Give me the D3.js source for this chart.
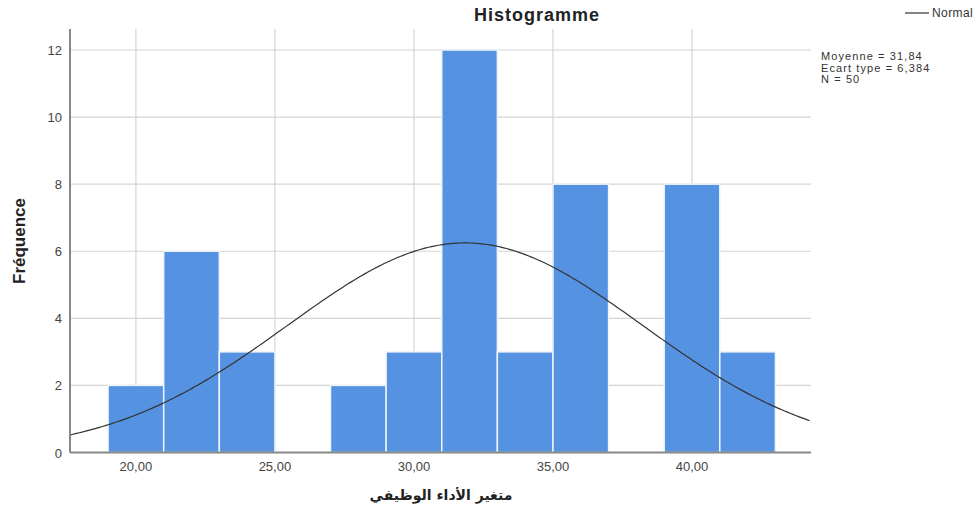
<!DOCTYPE html>
<html><head><meta charset="utf-8">
<script src="https://cdn.jsdelivr.net/npm/d3@7"></script>
<style>body{margin:0;background:#fff;} text{font-family:"Liberation Sans",Arial,sans-serif;}</style>
</head><body><svg id="c" width="975" height="511"></svg>
<script>
const binStarts = [19,21,23,25,27,29,31,33,35,37,39,41];
const binWidth = 2;
const counts = [2,6,3,0,2,3,12,3,8,0,8,3];
const xTicks = [20,25,30,35,40];
const yTicks = [0,2,4,6,8,10,12];
const stats = {mean:31.84, sd:6.384, n:50};
const statLabels = ["Moyenne = 31,84","Ecart type = 6,384","N = 50"];

const svg = d3.select("#c");
const x = d3.scaleLinear().domain([17.63,44.28]).range([70,811]);
const y = d3.scaleLinear().domain([0,12]).range([452.5,50]);
const yTop = 29;
const fmt = d => d.toFixed(2).replace(".", ",");

// grid
svg.append("g").selectAll("line").data(yTicks.filter(d=>d>0)).join("line")
  .attr("x1",70).attr("x2",811).attr("y1",d=>y(d)).attr("y2",d=>y(d))
  .attr("stroke","#d4d4d4").attr("stroke-width",1.2);
svg.append("g").selectAll("line").data(xTicks).join("line")
  .attr("x1",d=>x(d)).attr("x2",d=>x(d)).attr("y1",yTop).attr("y2",y(0))
  .attr("stroke","#d4d4d4").attr("stroke-width",1.2);

// bars
svg.append("g").selectAll("rect").data(binStarts.map((s,i)=>({s,c:counts[i]})).filter(d=>d.c>0)).join("rect")
  .attr("x",d=>x(d.s)).attr("width",d=>x(d.s+binWidth)-x(d.s))
  .attr("y",d=>y(d.c)).attr("height",d=>y(0)-y(d.c))
  .attr("fill","#5692e2").attr("stroke","#eef4fc").attr("stroke-width",1.5);

// normal curve
const xs = d3.range(17.63,44.29,0.1);
const scaleF = stats.n*binWidth/(stats.sd*Math.sqrt(2*Math.PI));
const pdf = v => scaleF*Math.exp(-0.5*Math.pow((v-stats.mean)/stats.sd,2));
svg.append("path").datum(xs)
  .attr("d", d3.line().x(d=>x(d)).y(d=>y(pdf(d))).curve(d3.curveBasis))
  .attr("fill","none").attr("stroke","#333").attr("stroke-width",1.2);

// axes
svg.append("line").attr("x1",70).attr("x2",70).attr("y1",yTop).attr("y2",y(0))
  .attr("stroke","#888").attr("stroke-width",2);
svg.append("line").attr("x1",70).attr("x2",811).attr("y1",y(0)).attr("y2",y(0))
  .attr("stroke","#888").attr("stroke-width",2);

svg.append("g").selectAll("text").data(yTicks).join("text")
  .attr("x",62).attr("y",d=>y(d)+5).attr("text-anchor","end")
  .attr("font-size",13).attr("fill","#444").text(d=>d);
svg.append("g").selectAll("text").data(xTicks).join("text")
  .attr("x",d=>x(d)).attr("y",471).attr("text-anchor","middle")
  .attr("font-size",13).attr("fill","#444").text(fmt);

// titles
svg.append("text").attr("x",537).attr("y",21).attr("text-anchor","middle")
  .attr("font-size",18).attr("letter-spacing",1).attr("font-weight","bold").attr("fill","#222").text("Histogramme");
svg.append("text").attr("transform","translate(25,241) rotate(-90)").attr("text-anchor","middle")
  .attr("font-size",17).attr("font-weight","bold").attr("fill","#222").text("Fréquence");
svg.append("text").attr("x",441).attr("y",500).attr("text-anchor","middle")
  .attr("font-size",14).attr("font-weight","bold").attr("fill","#222")
  .attr("style","font-family:'DejaVu Sans',sans-serif").text("متغير الأداء الوظيفي");

// legend
svg.append("line").attr("x1",905).attr("x2",929).attr("y1",13).attr("y2",13).attr("stroke","#333").attr("stroke-width",1.2);
svg.append("text").attr("x",932).attr("y",17).attr("font-size",12).attr("letter-spacing",0.4).attr("fill","#333").text("Normal");
svg.append("g").selectAll("text").data(statLabels).join("text")
  .attr("x",821).attr("y",(d,i)=>60+i*11.5).attr("font-size",11).attr("letter-spacing",1.1).attr("fill","#333").text(d=>d);
</script></body></html>
